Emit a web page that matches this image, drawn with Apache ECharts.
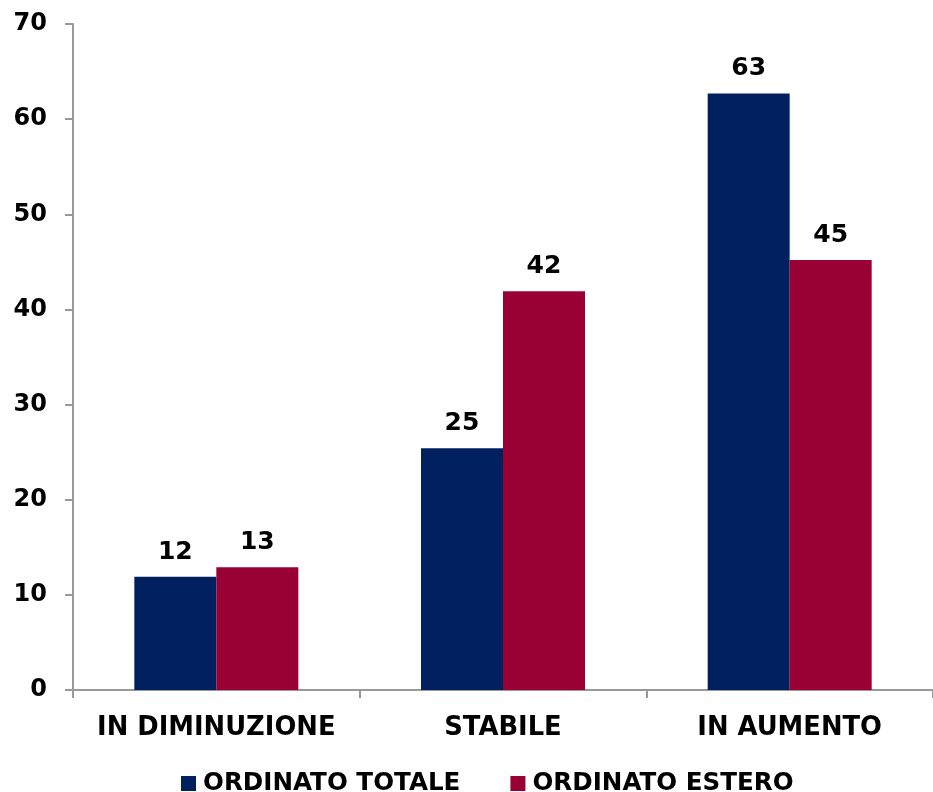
<!DOCTYPE html>
<html>
<head>
<meta charset="utf-8">
<script src="https://cdn.jsdelivr.net/npm/echarts@6/dist/echarts.min.js"></script>
<style>html,body{margin:0;padding:0;background:#fff}#c{width:933px;height:792px}</style>
</head>
<body>
<div id="c"></div>
<script>
const categories = ['IN DIMINUZIONE', 'STABILE', 'IN AUMENTO'];
const seriesNames = ['ORDINATO TOTALE', 'ORDINATO ESTERO'];
const totale = [11.9, 25.4, 62.7];
const estero = [12.9, 41.9, 45.2];
const yTicks = { min: 0, max: 70, interval: 10 };

const FONT = 'DejaVu Sans';
const chart = echarts.init(document.getElementById('c'));
const labelOpt = {
  show: true, position: 'top', distance: 12,
  fontFamily: FONT, fontWeight: 'bold', fontSize: 25, color: '#000',
  formatter: p => Math.round(p.value)
};
chart.setOption({
  animation: false,
  textStyle: { fontFamily: FONT },
  grid: { left: 73, right: 0, top: 24, bottom: 102, containLabel: false },
  legend: {
    data: seriesNames, top: 766, left: 176,
    itemWidth: 15, itemHeight: 15, itemGap: 50, icon: 'rect',
    textStyle: { fontFamily: FONT, fontWeight: 'bold', fontSize: 24.6, color: '#000', padding: [0, 0, 0, 2] }
  },
  xAxis: {
    type: 'category', data: categories,
    axisLine: { lineStyle: { color: '#999', width: 2 } },
    axisTick: { show: true, length: 8, lineStyle: { color: '#999', width: 2 } },
    axisLabel: { interval: 0, fontFamily: FONT, fontWeight: 'bold', fontSize: 25.8, color: '#000', margin: 25 }
  },
  yAxis: {
    type: 'value', min: yTicks.min, max: yTicks.max, interval: yTicks.interval,
    axisLine: { show: true, lineStyle: { color: '#999', width: 2 } },
    axisTick: { show: true, length: 8, lineStyle: { color: '#999', width: 2 } },
    splitLine: { show: false },
    axisLabel: { fontFamily: FONT, fontWeight: 'bold', fontSize: 24, color: '#000', margin: 26 }
  },
  series: [
    { name: seriesNames[0], type: 'bar', data: totale, barWidth: 82, barGap: '0%',
      itemStyle: { color: '#002060' }, label: labelOpt },
    { name: seriesNames[1], type: 'bar', data: estero, barWidth: 82, barGap: '0%',
      itemStyle: { color: '#990033' }, label: labelOpt }
  ]
});
</script>
</body>
</html>
